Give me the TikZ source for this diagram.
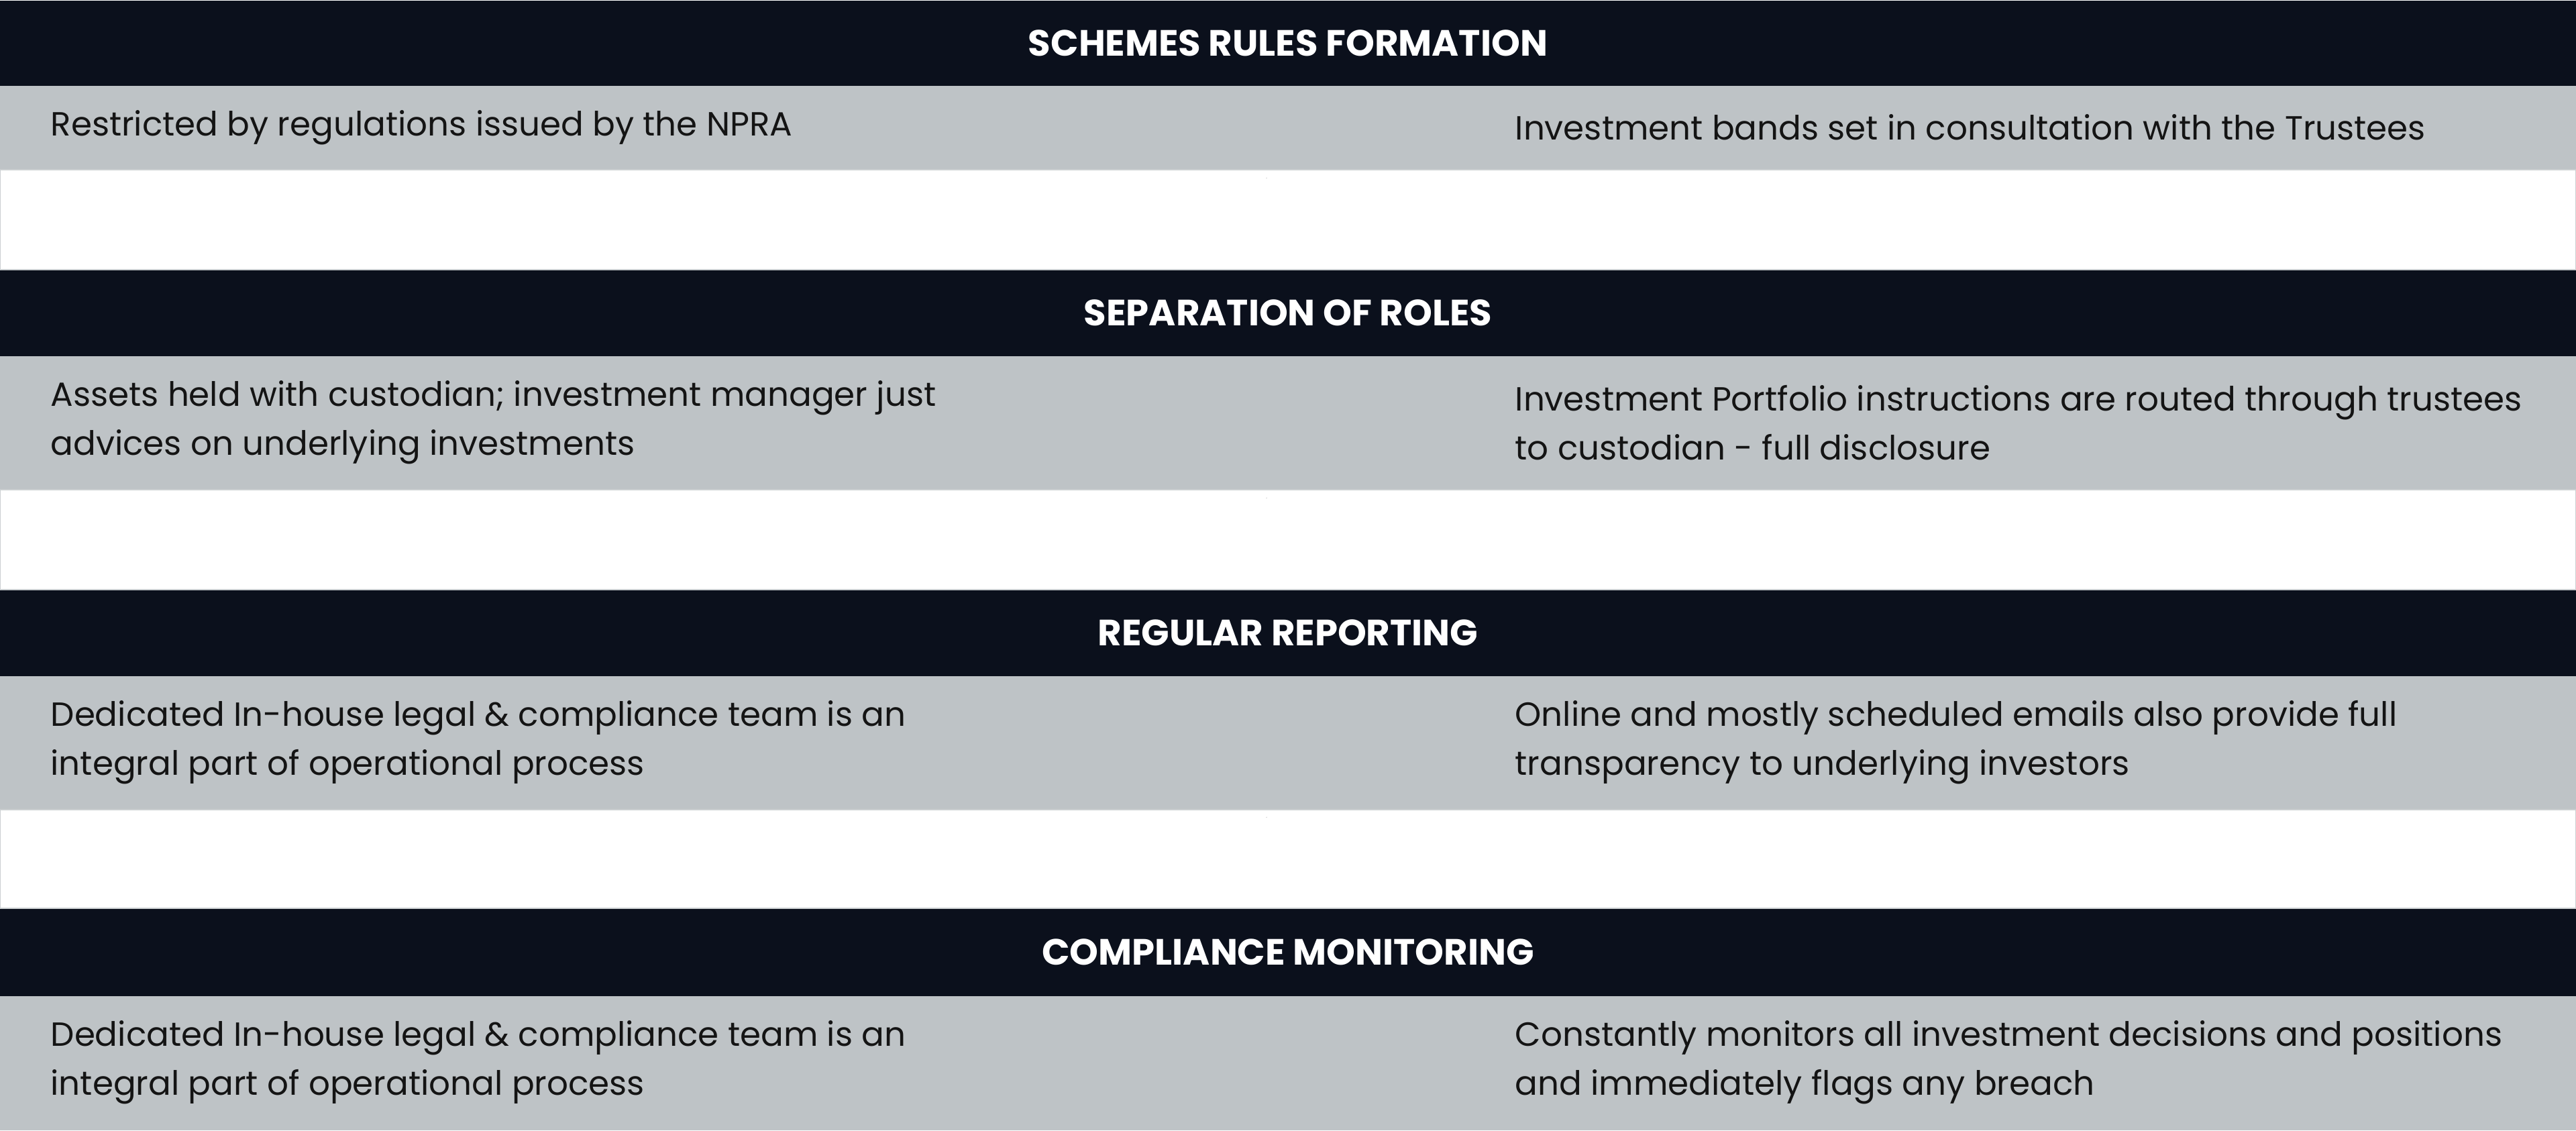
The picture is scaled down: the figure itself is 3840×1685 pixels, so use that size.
\documentclass[tikz,border=0pt]{standalone}
\usepackage{fontspec}
\setmainfont{Poppins}
\definecolor{navy}{HTML}{0B101C}
\definecolor{band}{HTML}{BEC3C6}
\definecolor{arrowgray}{HTML}{8E8E8E}
\definecolor{ink}{HTML}{141414}
\tikzset{
  head/.style={fill=navy, text=white, font=\fontsize{15.5}{18}\selectfont\bfseries, minimum width=38.4cm, inner sep=0pt, anchor=north},
  cell/.style={anchor=west, align=left, text=ink, font=\fontsize{14.2}{20.8}\selectfont, inner sep=0pt},
}
% block arrow between two stages, from its top point
\newcommand{\stagearrow}[1]{%
  \fill[arrowgray] ($(#1)+(-0.21,0)$) -- ($(#1)+(0.21,0)$) -- ($(#1)+(0.21,-0.65)$) -- ($(#1)+(0.55,-0.65)$)
    -- ($(#1)+(0,-1.27)$) -- ($(#1)+(-0.55,-0.65)$) -- ($(#1)+(-0.21,-0.65)$) -- cycle;}
\usetikzlibrary{calc}
\begin{document}
\begin{tikzpicture}[x=0.01cm, y=-0.01cm]
  \useasboundingbox (0,0) rectangle (3840,1685);
  % gray bands
  \fill[band] (0,127) rectangle (3840,253);
  \fill[band] (0,530) rectangle (3840,730);
  \fill[band] (0,1007) rectangle (3840,1207);
  \fill[band] (0,1484) rectangle (3840,1685);
  % white gaps
  \foreach \t/\b in {253/402, 730/879, 1207/1354}
    \draw[band!80!white, line width=0.4pt] (0,\t) rectangle (3840,\b);
  % headers
  \node[head, minimum height=1.27cm] (h1) at (1920,0) {SCHEMES RULES FORMATION};
  \node[head, minimum height=1.28cm] (h2) at (1920,402) {SEPARATION OF ROLES};
  \node[head, minimum height=1.28cm] (h3) at (1920,879) {REGULAR REPORTING};
  \node[head, minimum height=1.30cm] (h4) at (1920,1354) {COMPLIANCE MONITORING};
  % arrows
  \coordinate (a1) at (1888,266);
  \coordinate (a2) at (1888,743);
  \coordinate (a3) at (1888,1219);
  \stagearrow{a1}
  \stagearrow{a2}
  \stagearrow{a3}
  % texts
  \node[cell] (l1) at (75,190) {Restricted by regulations issued by the NPRA};
  \node[cell] (r1) at (2258,190) {Investment bands set in consultation with the Trustees};
  \node[cell] (l2) at (75,630) {Assets held with custodian; investment manager just\\advices on underlying investments};
  \node[cell] (r2) at (2258,630) {Investment Portfolio instructions are routed through trustees\\to custodian - full disclosure};
  \node[cell] (l3) at (75,1107) {Dedicated In-house legal \& compliance team is an\\integral part of operational process};
  \node[cell] (r3) at (2258,1107) {Online and mostly scheduled emails also provide full\\transparency to underlying investors};
  \node[cell] (l4) at (75,1584) {Dedicated In-house legal \& compliance team is an\\integral part of operational process};
  \node[cell] (r4) at (2258,1584) {Constantly monitors all investment decisions and positions\\and immediately flags any breach};
\end{tikzpicture}
\end{document}
